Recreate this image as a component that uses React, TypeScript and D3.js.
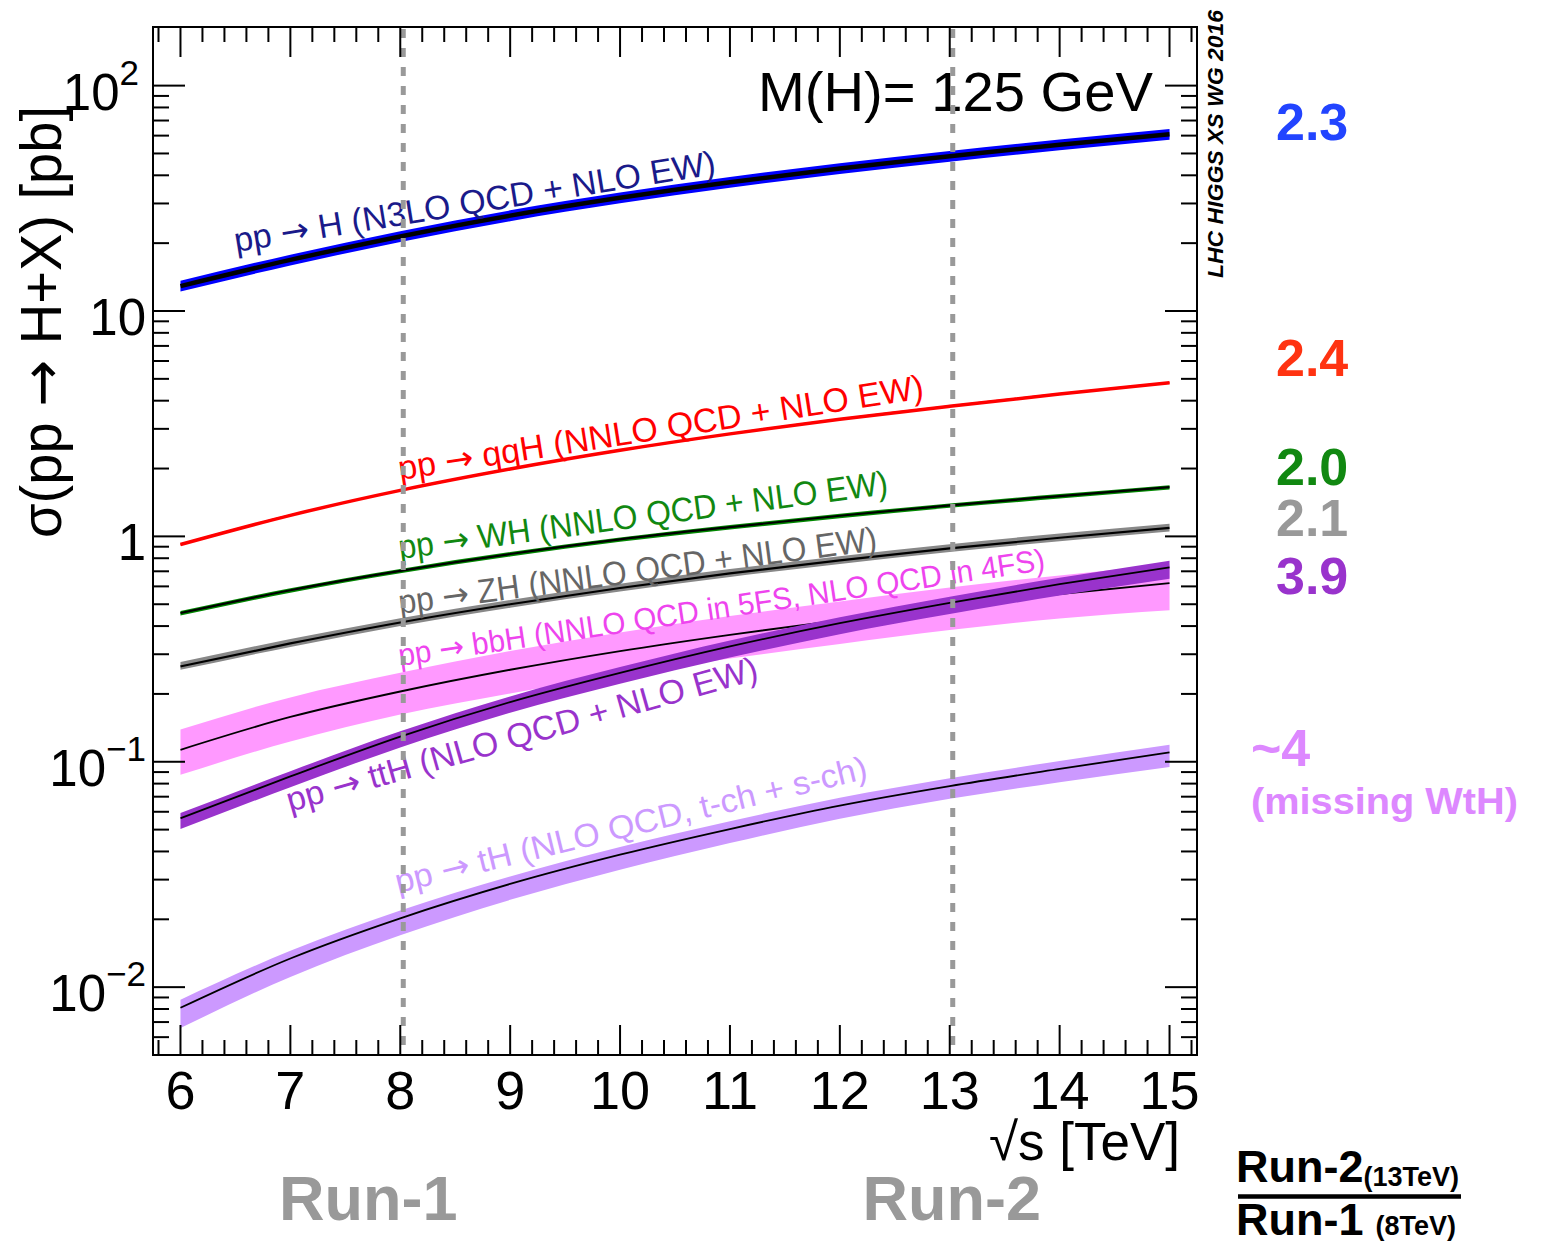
import React from 'react';
import * as d3 from 'd3';

// ---------------- data ----------------
const sqrtS = [6, 7, 8, 9, 10, 11, 12, 13, 14, 15];

const xsGGH = [12.9, 16.85, 21.42, 26.5, 31.8, 37.3, 42.9, 48.58, 54.67, 60.9];
const ggHUnc = [0.055, 0.055];

const xsQQH = [0.92, 1.24, 1.6, 1.99, 2.41, 2.85, 3.31, 3.78, 4.28, 4.8];
const qqHUnc = [0.01, 0.01];

const xsWH = [0.457, 0.577, 0.703, 0.835, 0.97, 1.1, 1.235, 1.373, 1.51, 1.655];
const wHUnc = [0.02, 0.025];

const xsZH = [0.265, 0.335, 0.415, 0.5, 0.59, 0.685, 0.782, 0.884, 0.986, 1.09];
const zHUnc = [0.045, 0.035];

const xsBBH = [0.113, 0.158, 0.205, 0.256, 0.31, 0.366, 0.425, 0.49, 0.555, 0.62];
const xsBBHHi = [0.139, 0.193, 0.248, 0.31, 0.375, 0.443, 0.514, 0.593, 0.671, 0.75];
const xsBBHLo = [0.0875, 0.123, 0.162, 0.201, 0.243, 0.287, 0.333, 0.384, 0.432, 0.47];

const xsTTH = [0.0562, 0.0861, 0.1293, 0.184, 0.248, 0.325, 0.412, 0.507, 0.614, 0.728];
const xsTTHHi = [0.0592, 0.0908, 0.1365, 0.195, 0.263, 0.345, 0.438, 0.54, 0.655, 0.78];
const xsTTHLo = [0.0503, 0.0771, 0.1158, 0.165, 0.222, 0.29, 0.368, 0.452, 0.547, 0.649];

const xsTH = [0.0081, 0.0134, 0.0202, 0.0287, 0.0387, 0.0503, 0.0639, 0.078, 0.093, 0.11];
const xsTHHi = [0.0088, 0.0145, 0.0219, 0.031, 0.0419, 0.0545, 0.0692, 0.0845, 0.1007, 0.119];
const xsTHLo = [0.00658, 0.0111, 0.017, 0.0244, 0.0332, 0.0436, 0.0558, 0.0685, 0.0812, 0.0947];

const xTickValues = [6, 7, 8, 9, 10, 11, 12, 13, 14, 15];
const yTickValues = [0.01, 0.1, 1, 10, 100];
const runLines = [8, 13];

const processLabels = [
  'pp \u2192 H (N3LO QCD + NLO EW)',
  'pp \u2192 qqH (NNLO QCD + NLO EW)',
  'pp \u2192 WH (NNLO QCD + NLO EW)',
  'pp \u2192 ZH (NNLO QCD + NLO EW)',
  'pp \u2192 bbH (NNLO QCD in 5FS, NLO QCD in 4FS)',
  'pp \u2192 ttH (NLO QCD + NLO EW)',
  'pp \u2192 tH (NLO QCD, t-ch + s-ch)',
];

const ratioLabels = ['2.3', '2.4', '2.0', '2.1', '3.9', '~4'];

// ---------------- chart ----------------
const FONT = '"Liberation Sans", Arial, Helvetica, sans-serif';
const ARROW_FONT = '"DejaVu Sans", sans-serif';

function withArrow(t: string) {
  const parts = t.split('\u2192');
  if (parts.length === 1) return t;
  return (
    <>
      {parts[0]}
      <tspan fontFamily={ARROW_FONT}>{'\u2192'}</tspan>
      {parts.slice(1).join('\u2192')}
    </>
  );
}

export default function App() {
  const W = 1541;
  const H = 1243;
  const L = 153, R = 1197, T = 27, B = 1055;

  const x = d3.scaleLinear().domain([5.75, 15.25]).range([L, R]);
  const y = d3.scaleLog().domain([0.005, 182]).range([B, T]);

  const line = (vals: number[]) =>
    d3.line<number>().x((_, i) => x(sqrtS[i])).y((d) => y(d)).curve(d3.curveMonotoneX)(vals) || '';
  const area = (hi: number[], lo: number[]) =>
    d3
      .area<number>()
      .x((_, i) => x(sqrtS[i]))
      .y0((_, i) => y(lo[i]))
      .y1((_, i) => y(hi[i]))
      .curve(d3.curveMonotoneX)(sqrtS) || '';
  const rel = (c: number[], u: number[]) => [c.map((v) => v * (1 + u[0])), c.map((v) => v * (1 - u[1]))];

  const [ggHi, ggLo] = rel(xsGGH, ggHUnc);
  const [qqHi, qqLo] = rel(xsQQH, qqHUnc);
  const [whHi, whLo] = rel(xsWH, wHUnc);
  const [zhHi, zhLo] = rel(xsZH, zHUnc);

  const procs = [
    { c: xsGGH, hi: ggHi, lo: ggLo, band: '#0000ff', lineColor: '#000000', lw: 4.5 },
    { c: xsQQH, hi: qqHi, lo: qqLo, band: '#ff0000', lineColor: '#ff0000', lw: 3.5 },
    { c: xsWH, hi: whHi, lo: whLo, band: '#008800', lineColor: '#000000', lw: 2.2 },
    { c: xsZH, hi: zhHi, lo: zhLo, band: '#888888', lineColor: '#000000', lw: 2.2 },
    { c: xsBBH, hi: xsBBHHi, lo: xsBBHLo, band: '#ff99ff', lineColor: '#000000', lw: 1.8 },
    { c: xsTTH, hi: xsTTHHi, lo: xsTTHLo, band: '#9933cc', lineColor: '#000000', lw: 1.8 },
    { c: xsTH, hi: xsTHHi, lo: xsTHLo, band: '#cc99ff', lineColor: '#000000', lw: 1.8 },
  ];

  // label placement (start/end baseline points)
  const labelStyle = [
    { p0: [236, 252], p1: [717, 174], color: '#1a1a8a', fs: 34 },
    { p0: [400, 480], p1: [925, 398], color: '#ff0000', fs: 34 },
    { p0: [400, 559], p1: [889, 494], color: '#118811', fs: 34 },
    { p0: [400, 614], p1: [878, 550], color: '#666666', fs: 34 },
    { p0: [400, 666], p1: [1046, 570], color: '#ee44ee', fs: 31 },
    { p0: [290, 812], p1: [760, 679], color: '#9933cc', fs: 34 },
    { p0: [398, 893], p1: [869, 778], color: '#cc99ff', fs: 33 },
  ];

  const ratioStyle = [
    { x: 1276, y: 140, color: '#2244ff' },
    { x: 1276, y: 376, color: '#ff3311' },
    { x: 1276, y: 485, color: '#118811' },
    { x: 1276, y: 536, color: '#999999' },
    { x: 1276, y: 594, color: '#9933cc' },
    { x: 1251, y: 766, color: '#dd88ff' },
  ];

  // ticks
  const xMinor: number[] = [];
  for (let k = 29; k <= 76; k++) {
    const v = k / 5;
    if (Math.abs(v - Math.round(v)) > 1e-6) xMinor.push(v);
  }
  const yMinor: number[] = [];
  for (let e = -3; e <= 2; e++) {
    for (let m = 2; m <= 9; m++) {
      const v = m * Math.pow(10, e);
      if (v > 0.005 && v < 182) yMinor.push(v);
    }
  }

  const supOf = (v: number) => {
    const e = Math.round(Math.log10(v));
    if (e === 0) return { base: '1', sup: '' };
    if (e === 1) return { base: '10', sup: '' };
    return { base: '10', sup: e < 0 ? '\u2212' + Math.abs(e) : String(e) };
  };

  return (
    <svg
      width={W}
      height={H}
      viewBox={`0 0 ${W} ${H}`}
      style={{ position: 'absolute', left: 0, top: 0, background: '#fff' }}
      fontFamily={FONT}
    >
      <rect x={0} y={0} width={W} height={H} fill="#ffffff" />
      <defs>
        <clipPath id="plotclip">
          <rect x={L} y={T} width={R - L} height={B - T} />
        </clipPath>
      </defs>

      {/* bands and central lines */}
      <g clipPath="url(#plotclip)">
        {procs.map((p, i) => (
          <g key={i}>
            <path d={area(p.hi, p.lo)} fill={p.band} stroke="none" />
            <path d={line(p.c)} fill="none" stroke={p.lineColor} strokeWidth={p.lw} />
          </g>
        ))}
      </g>

      {/* process labels */}
      {processLabels.map((t, i) => {
        const s = labelStyle[i];
        const dx = s.p1[0] - s.p0[0];
        const dy = s.p1[1] - s.p0[1];
        const ang = (Math.atan2(dy, dx) * 180) / Math.PI;
        const len = Math.hypot(dx, dy);
        return (
          <text
            key={i}
            transform={`translate(${s.p0[0]},${s.p0[1]}) rotate(${ang})`}
            fontSize={s.fs}
            fill={s.color}
            textLength={len}
            lengthAdjust="spacingAndGlyphs"
          >
            {withArrow(t)}
          </text>
        );
      })}

      {/* M(H) */}
      <text x={758} y={111} fontSize={56} fill="#000" textLength={395} lengthAdjust="spacingAndGlyphs">
        M(H)= 125 GeV
      </text>

      {/* Run lines */}
      {runLines.map((v) => (
        <line
          key={v}
          x1={x(v) + 3}
          x2={x(v) + 3}
          y1={T + 2}
          y2={B - 2}
          stroke="#999999"
          strokeWidth={5}
          strokeDasharray="9 10"
        />
      ))}

      {/* frame */}
      <rect x={L} y={T} width={R - L} height={B - T} fill="none" stroke="#000" strokeWidth={2} />

      {/* x ticks */}
      {xTickValues.map((v) => (
        <g key={'xt' + v}>
          <line x1={x(v)} x2={x(v)} y1={B} y2={B - 30} stroke="#000" strokeWidth={2} />
          <line x1={x(v)} x2={x(v)} y1={T} y2={T + 30} stroke="#000" strokeWidth={2} />
          <text x={x(v)} y={1109} fontSize={54} textAnchor="middle" fill="#000">
            {v}
          </text>
        </g>
      ))}
      {xMinor.map((v) => (
        <g key={'xm' + v}>
          <line x1={x(v)} x2={x(v)} y1={B} y2={B - 15} stroke="#000" strokeWidth={2} />
          <line x1={x(v)} x2={x(v)} y1={T} y2={T + 15} stroke="#000" strokeWidth={2} />
        </g>
      ))}

      {/* y ticks */}
      {yTickValues.map((v) => {
        const s = supOf(v);
        const yy = y(v);
        return (
          <g key={'yt' + v}>
            <line x1={L} x2={L + 32} y1={yy} y2={yy} stroke="#000" strokeWidth={2} />
            <line x1={R} x2={R - 32} y1={yy} y2={yy} stroke="#000" strokeWidth={2} />
            <text x={s.sup === '2' ? 139 : 146} y={yy + 24} fontSize={51} textAnchor="end" fill="#000">
              {s.base}
              {s.sup && (
                <tspan fontSize={35} dy={-25}>
                  {s.sup}
                </tspan>
              )}
            </text>
          </g>
        );
      })}
      {yMinor.map((v) => (
        <g key={'ym' + v}>
          <line x1={L} x2={L + 16} y1={y(v)} y2={y(v)} stroke="#000" strokeWidth={2} />
          <line x1={R} x2={R - 16} y1={y(v)} y2={y(v)} stroke="#000" strokeWidth={2} />
        </g>
      ))}

      {/* axis titles */}
      <text
        transform="translate(61,538) rotate(-90)"
        fontSize={57}
        fill="#000"
        textLength={432}
        lengthAdjust="spacingAndGlyphs"
      >
        {withArrow('\u03c3(pp \u2192 H+X) [pb]')}
      </text>
      <text x={1180} y={1160} fontSize={53} textAnchor="end" fill="#000">
        {'\u221As [TeV]'}
      </text>

      {/* watermark */}
      <text
        transform="translate(1223,278) rotate(-90)"
        fontSize={22}
        fontWeight="bold"
        fontStyle="italic"
        fill="#000"
        textLength={268}
        lengthAdjust="spacingAndGlyphs"
      >
        LHC HIGGS XS WG 2016
      </text>

      {/* Run labels */}
      <text x={x(8) - 32} y={1220} fontSize={63} fontWeight="bold" fill="#999999" textAnchor="middle">
        Run-1
      </text>
      <text x={x(13) + 2} y={1220} fontSize={63} fontWeight="bold" fill="#999999" textAnchor="middle">
        Run-2
      </text>

      {/* ratios */}
      {ratioLabels.map((t, i) => (
        <text key={'r' + i} x={ratioStyle[i].x} y={ratioStyle[i].y} fontSize={52} fontWeight="bold" fill={ratioStyle[i].color}>
          {t}
        </text>
      ))}
      <text x={1251} y={814} fontSize={37} fontWeight="bold" fill="#dd88ff" textLength={267} lengthAdjust="spacingAndGlyphs">
        (missing WtH)
      </text>

      {/* fraction */}
      <text x={1236} y={1182} fontSize={45} fontWeight="bold" fill="#000">
        Run-2
        <tspan fontSize={27} dy={4}>
          (13TeV)
        </tspan>
      </text>
      <line x1={1238} x2={1461} y1={1196.5} y2={1196.5} stroke="#000" strokeWidth={4.5} />
      <text x={1236} y={1235} fontSize={45} fontWeight="bold" fill="#000">
        Run-1
        <tspan fontSize={27} dx={12} dy={0}>
          (8TeV)
        </tspan>
      </text>
    </svg>
  );
}
